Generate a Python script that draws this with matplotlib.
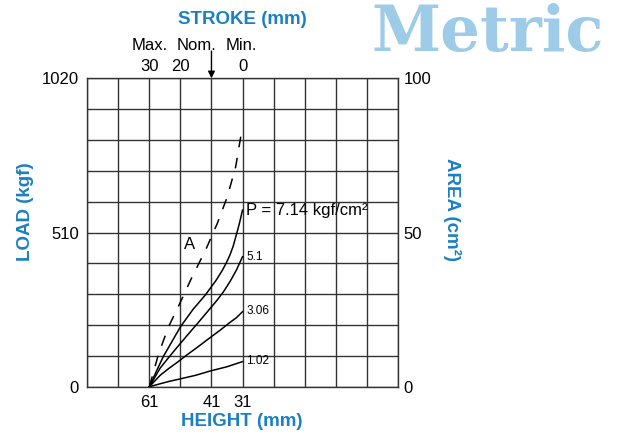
import matplotlib.pyplot as plt

plt.rcParams['font.family'] = ['Liberation Sans', 'DejaVu Sans']

blue = "#1a80c4"
grid_col = "#333333"

# curves: height (mm) vs load (kgf)
h_714 = [61, 58.8, 56.5, 53.7, 51, 47, 43, 39.5, 37.5, 36.2, 35, 34, 33, 32, 31]
load_714 = [0, 50, 100, 150, 198, 255, 303, 352, 385, 410, 437, 465, 502, 540, 584]

h_51 = [61, 57.5, 55, 52.1, 48.8, 45.6, 42.4, 39.2, 37, 34.9, 33, 31]
load_51 = [0, 62, 94, 130, 170, 208, 247, 286, 316, 350, 385, 430]

h_306 = [61, 57.5, 54.8, 52.1, 48.8, 45.6, 42, 38.2, 35, 33, 31]
load_306 = [0, 38, 60, 80, 106, 130, 158, 187, 213, 228, 248]

h_102 = [61, 54.9, 51, 46, 41.4, 36, 31]
load_102 = [0, 17, 26, 38, 52, 66, 83]

# area curve "A", height (mm) vs area (cm2)
h_area = [61, 58.0, 54.8, 51.2, 47.2, 42.9, 39.1, 35.9, 33.2, 31.1]
area = [0, 10.8, 19.5, 27.0, 35.7, 44.3, 53.0, 61.6, 71.3, 83.9]

height_ticks = [61, 41, 31]
load_ticks = [0, 510, 1020]
area_ticks = [0, 50, 100]
stroke_ticks = [30, 20, 0]

fig = plt.figure(figsize=(6.29, 4.38), dpi=100)
ax = fig.add_axes([0.1388, 0.1171, 0.4935, 0.7041])

ax.set_xlim(81, -19)
ax.set_ylim(0, 1020)
for xv in range(81, -20, -10):
    ax.axvline(xv, color=grid_col, lw=1.0, zorder=1)
for i in range(11):
    ax.axhline(i * 102, color=grid_col, lw=1.0, zorder=1)
for s in ax.spines.values():
    s.set_color(grid_col)
    s.set_linewidth(1.0)

ax.plot(h_714, load_714, color="black", lw=1.1, zorder=3)
ax.plot(h_51, load_51, color="black", lw=1.1, zorder=3)
ax.plot(h_306, load_306, color="black", lw=1.1, zorder=3)
ax.plot(h_102, load_102, color="black", lw=1.1, zorder=3)

ax.set_xticks(height_ticks)
ax.set_xticklabels([str(v) for v in height_ticks])
ax.set_yticks(load_ticks)
ax.set_yticklabels([str(v) for v in load_ticks])
ax.tick_params(length=0, labelsize=12, pad=6)

ax2 = ax.twinx()
ax2.set_ylim(0, 100)
ax2.set_yticks(area_ticks)
ax2.tick_params(length=0, labelsize=12, pad=4)
for s in ax2.spines.values():
    s.set_visible(False)
a_line, = ax2.plot(h_area, area, color="black", lw=1.1, zorder=3)
a_line.set_dashes([7, 7])

# stroke scale on top: stroke = height - 31
ax3 = ax.secondary_xaxis('top', functions=(lambda h: h - 31, lambda s: s + 31))
ax3.set_xticks(stroke_ticks)
ax3.tick_params(length=0, labelsize=12, pad=3)
ax3.spines['top'].set_visible(False)

fig.text(150 / 629, 1 - 45 / 438, "Max.", fontsize=12, ha="center", va="center")
fig.text(197 / 629, 1 - 45 / 438, "Nom.", fontsize=12, ha="center", va="center")
fig.text(241 / 629, 1 - 45 / 438, "Min.", fontsize=12, ha="center", va="center")
ax.annotate("", xy=(41, 1020), xytext=(41, 1110), xycoords="data",
            arrowprops=dict(arrowstyle="-|>", color="black", lw=1.0,
                            mutation_scale=10, shrinkA=0, shrinkB=0),
            annotation_clip=False)

fig.text(242 / 629, 1 - 19 / 438, "STROKE (mm)", fontsize=13.5, weight="bold",
         color=blue, ha="center", va="center")
fig.text(242 / 629, 1 - 422 / 438, "HEIGHT (mm)", fontsize=13.5, weight="bold",
         color=blue, ha="center", va="center")
fig.text(25 / 629, 1 - 212 / 438, "LOAD (kgf)", fontsize=13.5, weight="bold",
         color=blue, ha="center", va="center", rotation=90)
fig.text(452 / 629, 1 - 210 / 438, "AREA (cm²)", fontsize=13.5, weight="bold",
         color=blue, ha="center", va="center", rotation=270)
fig.text(488 / 629, 1 - 33 / 438, "Metric", fontsize=45, weight="bold",
         family="DejaVu Serif", color="#9dcbe8", ha="center", va="center")

ax.text(29.8, 584, "P = 7.14 kgf/cm²", fontsize=12, ha="left", va="center")
ax.text(29.8, 430, "5.1", fontsize=8.5, ha="left", va="center")
ax.text(29.8, 250, "3.06", fontsize=8.5, ha="left", va="center")
ax.text(29.8, 85, "1.02", fontsize=8.5, ha="left", va="center")
ax.text(48, 470, "A", fontsize=12, ha="center", va="center")

fig.savefig("out.png", dpi=100)
